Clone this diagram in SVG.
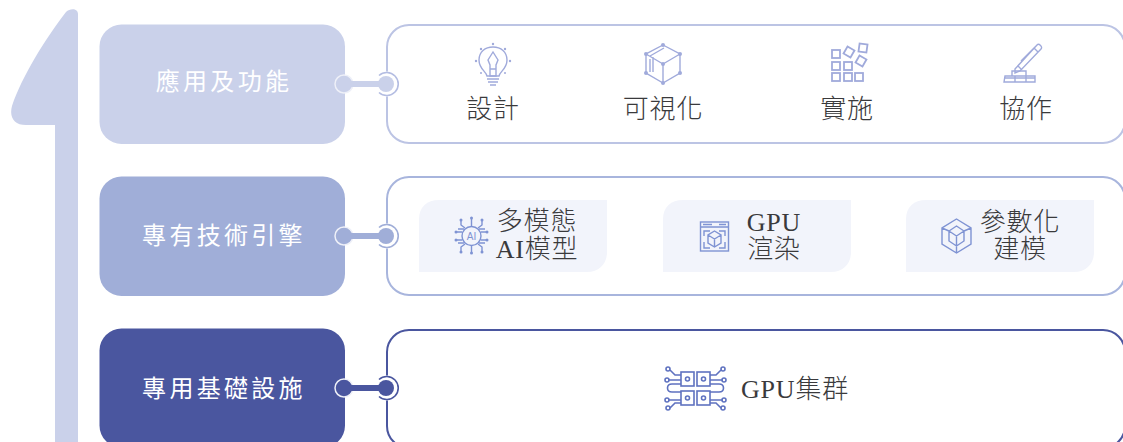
<svg xmlns="http://www.w3.org/2000/svg" width="1123" height="442" viewBox="0 0 1123 442">
<style>
.lbl{font-family:"Noto Sans CJK TC","Noto Sans",sans-serif;font-size:24px;fill:#fff;letter-spacing:3.3px;text-anchor:middle;font-weight:400}
.t{font-family:"Liberation Serif","Noto Sans CJK TC",serif;font-size:26px;fill:#3a3a3c;text-anchor:middle;font-weight:300;letter-spacing:.8px}
.box{fill:#fff;stroke-width:2}
.chip{fill:#f2f4fb}
.i{fill:none;stroke:#a0aadb;stroke-width:1.4}
.i2{fill:none;stroke:#7f93d3;stroke-width:1.4}
.i3{fill:none;stroke:#5f72c0;stroke-width:1.6}
.f{fill:#a0aadb;stroke:none}
.f2{fill:#7f93d3;stroke:none}
.bg{fill:#fff}
.pale{stroke:#eef0f8;stroke-width:1.5}
.ring{fill:none;stroke-width:1.6}
</style>
<g id="arrow"><path d="M78 14V442H55V125H26C14 125 9 117 12 106 22 76 46 38 66 12 70 8 78 8 78 14Z" fill="#cad1ea"/></g>
<g id="node-app">
<rect x="99.500" y="24.500" width="245.500" height="119.500" rx="22" fill="#cad1ea"/>
<text class="lbl" x="224" y="90">應用及功能</text>
</g>
<g id="node-engine">
<rect x="99.500" y="176.500" width="245.500" height="119.500" rx="22" fill="#a0aed8"/>
<text class="lbl" x="224" y="244">專有技術引擎</text>
</g>
<g id="node-infra">
<rect x="99.500" y="328.500" width="245.500" height="119" rx="22" fill="#4a569f"/>
<text class="lbl" x="224" y="397">專用基礎設施</text>
</g>
<g id="panel-app">
<rect class="box" x="387" y="25" width="738" height="118" rx="22" stroke="#bcc4e4"/>
<g id="icon-design" class="i">
<path d="M487 76C486 71 479 69 479 60 479 52 485 47 493 47 501 47 507 52 507 60 507 69 500 71 499 76Z"/>
<path d="M487 79H499M488 82H498M490 85H496M493 52 488 60 490 65V76H496V65L498 60ZM490 69H496"/>
<circle class="f" cx="493" cy="44" r="1.200"/><circle class="f" cx="476" cy="61" r="1.200"/><circle class="f" cx="510" cy="61" r="1.200"/><circle class="f" cx="481" cy="49" r="1.200"/><circle class="f" cx="505" cy="49" r="1.200"/><circle class="f" cx="481" cy="73" r="1"/><circle class="f" cx="505" cy="73" r="1"/>
</g>
<text class="t" x="493" y="118">設計</text>
<g id="icon-vis" class="i"><path d="M663 45 680 54V73L663 83 646 73V54Z M663 64 680 54M663 64 646 54M663 64V83M650 56 664 48M650 59V72M653 57V72"/>
<circle class="f" cx="663" cy="45" r="2"/><circle class="f" cx="680" cy="54" r="2"/><circle class="f" cx="680" cy="73" r="2"/><circle class="f" cx="663" cy="83" r="2"/><circle class="f" cx="646" cy="73" r="2"/><circle class="f" cx="646" cy="54" r="2"/><circle class="f" cx="663" cy="64" r="2"/>
</g>
<text class="t" x="663" y="118">可視化</text>
<g id="icon-impl" class="i" style="stroke-width:1.800">
<rect x="832" y="50" width="8" height="8"/><rect x="832" y="62" width="8" height="8"/><rect x="844" y="62" width="8" height="8"/><rect x="832" y="73" width="8" height="8"/><rect x="844" y="73" width="8" height="8"/><rect x="855" y="73" width="8" height="8"/>
<rect x="845" y="48" width="8" height="8" transform="rotate(30 849 52)"/><rect x="859" y="44" width="8" height="8" transform="rotate(8 863 48)"/><rect x="857" y="57" width="8" height="8" transform="rotate(30 861 61)"/>
</g>
<text class="t" x="847" y="118">實施</text>
<g id="icon-collab" class="i">
<path d="M1015 69 1037 45C1039 43 1043 47 1041 49L1020 71 1015 73ZM1018 66 1022 70M1034 48 1038 52M1021 61 1035 47"/>
<path d="M1004 82H1035V76H1026V71H1012V76H1005ZM1012 76H1026M1015 76V82M1026 76V82M1004 78H1035"/>
</g>
<text class="t" x="1026" y="118">協作</text>
</g>
<g id="panel-engine">
<rect class="box" x="387" y="177" width="738" height="118" rx="22" stroke="#a8b5dd"/>
<g id="chip-ai">
<path class="chip" d="M419 272V219C419 207 427 200 439 200H607V252C607 264 599 272 587 272Z"/>
<g class="i2"><circle cx="471.500" cy="236" r="9.500"/><path d="M465 228 461 225V221M471.500 226.500V219M478 228 482 225V221M462 232H456M481 232H487M462 240H456M481 240H487M465 244 461 247V251M471.500 245.500V252M478 244 482 247V251M464 229H458M479 229H485M464 243H458M479 243H485"/></g>
<circle class="f2" cx="461" cy="220" r="1.500"/><circle class="f2" cx="482" cy="220" r="1.500"/><circle class="f2" cx="471.500" cy="218" r="1.500"/><circle class="f2" cx="456" cy="232" r="1.500"/><circle class="f2" cx="487" cy="232" r="1.500"/><circle class="f2" cx="456" cy="240" r="1.500"/><circle class="f2" cx="487" cy="240" r="1.500"/><circle class="f2" cx="461" cy="252" r="1.500"/><circle class="f2" cx="482" cy="252" r="1.500"/><circle class="f2" cx="471.500" cy="253" r="1.500"/>
<text x="471.500" y="240" font-family="Liberation Sans, sans-serif" font-size="10" fill="#7f93d3" text-anchor="middle">AI</text>
<text class="t" x="537" y="230">多模態</text>
<text class="t" x="537" y="258">AI模型</text>
</g>
<g id="chip-gpu">
<path class="chip" d="M663 272V219C663 207 671 200 683 200H851V252C851 264 843 272 831 272Z"/>
<g class="i2"><rect x="700.500" y="222" width="28" height="29"/><path d="M701 227H728M703 224.500H712M719 224.500H726M704 236V231H710M719 231H725V236M704 242V248H710M719 248H725V242"/><path d="M714.500 231 721 235V243L714.500 247 708 243V235ZM708 235 714.500 239 721 235M714.500 239V247"/></g>
<text class="t" x="774" y="231">GPU</text>
<text class="t" x="774" y="258">渲染</text>
</g>
<g id="chip-param">
<path class="chip" d="M906 272V219C906 207 914 200 926 200H1094V252C1094 264 1086 272 1074 272Z"/>
<g class="i2"><path d="M956.500 219 971 228V244L956.500 253 942 244V228ZM956.500 226 964 231V241L956.500 246 949 241V231ZM949 231 956.500 236 964 231M956.500 236V246M942 228 949 231M971 228 964 231M956.500 246V253"/></g>
<text class="t" x="1020" y="231">參數化</text>
<text class="t" x="1020" y="258">建模</text>
</g>
</g>
<g id="panel-infra">
<rect class="box" x="387" y="330" width="738" height="118" rx="22" stroke="#4a569f"/>
<g id="icon-cluster" class="i3">
<rect x="681" y="372" width="13" height="14"/><rect x="697" y="372" width="13" height="14"/><rect x="681" y="391" width="13" height="14"/><rect x="697" y="391" width="13" height="14"/>
<circle cx="687.500" cy="379" r="2"/><circle cx="703.500" cy="379" r="2"/><circle cx="687.500" cy="398" r="2"/><circle cx="703.500" cy="398" r="2"/>
<path d="M681 375H675L670 370M681 380H668M681 384H672C666 384 666 392 672 392H681M681 400H668M681 403H675L670 408M710 375H716L721 370M710 380H723M710 384H719C725 384 725 392 719 392H710M710 400H723M710 403H716L721 408"/>
<circle cx="668" cy="369" r="2"/><circle cx="667" cy="380" r="2"/><circle cx="667" cy="400" r="2"/><circle cx="668" cy="408" r="2"/><circle cx="723" cy="369" r="2"/><circle cx="724" cy="380" r="2"/><circle cx="724" cy="400" r="2"/><circle cx="723" cy="408" r="2"/>
</g>
<text class="t" x="795" y="398">GPU集群</text>
</g>
<g id="connectors">
<g id="conn1">
<circle class="bg" cx="387" cy="84" r="12.500"/>
<path d="M379 92.500A11.500 11.500 0 1 0 379 75.500" class="ring" stroke="#b4bde2"/>
<circle cx="344" cy="84" r="9" fill="#cad1ea" class="pale"/>
<path d="M344 84H386" stroke="#cad1ea" stroke-width="6"/>
<circle cx="386" cy="84" r="8" fill="#cad1ea"/>
</g>
<g id="conn2">
<circle class="bg" cx="387" cy="236" r="12.500"/>
<path d="M379 244.500A11.500 11.500 0 1 0 379 227.500" class="ring" stroke="#a0aed8"/>
<circle cx="344" cy="236" r="9" fill="#a0aed8" class="pale"/>
<path d="M344 236H386" stroke="#a0aed8" stroke-width="6"/>
<circle cx="386" cy="236" r="8" fill="#a0aed8"/>
</g>
<g id="conn3">
<circle class="bg" cx="387" cy="388" r="12.500"/>
<path d="M379 396.500A11.500 11.500 0 1 0 379 379.500" class="ring" stroke="#4a569f"/>
<circle cx="344" cy="388" r="9" fill="#4a569f" class="pale"/>
<path d="M344 388H386" stroke="#4a569f" stroke-width="6"/>
<circle cx="386" cy="388" r="8" fill="#4a569f"/>
</g>
</g>
</svg>
